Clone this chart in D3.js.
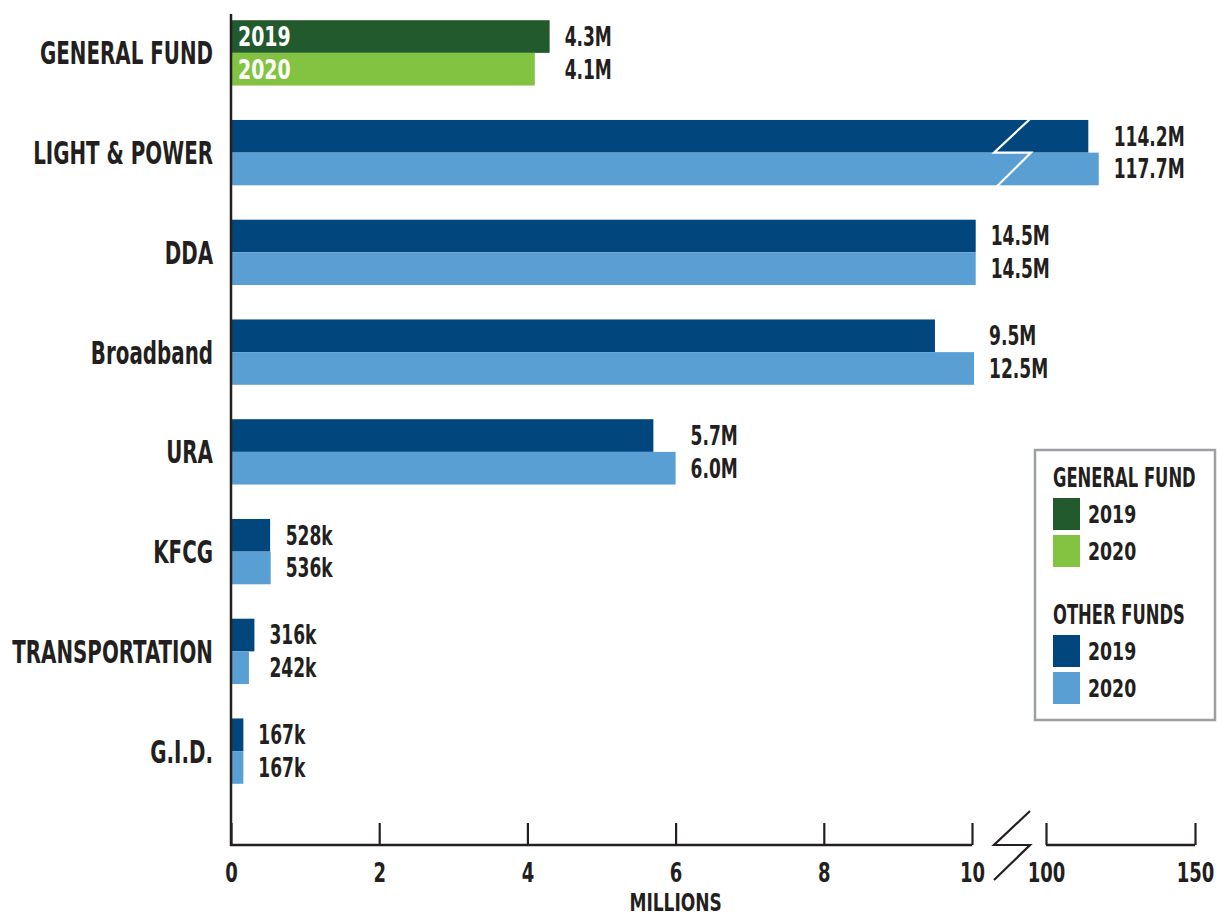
<!DOCTYPE html>
<html>
<head>
<meta charset="utf-8">
<script src="https://cdn.jsdelivr.net/npm/d3@7"></script>
<style>
  html, body { margin: 0; padding: 0; background: #fff; }
  svg { display: block; }
  text { font-family: 'Liberation Sans Narrow', 'DejaVu Sans Condensed', 'Arial Narrow', sans-serif; font-weight: bold; fill: #231f20; }
</style>
</head>
<body>
<svg id="chart" width="1217" height="917"></svg>
<script>
// ---- data ----
const categories = ["GENERAL FUND", "LIGHT & POWER", "DDA", "Broadband", "URA", "KFCG", "TRANSPORTATION", "G.I.D."];
const years = ["2019", "2020"];
const values2019 = [4.3, 114.2, 14.5, 9.5, 5.7, 0.528, 0.316, 0.167];
const values2020 = [4.1, 117.7, 14.5, 12.5, 6.0, 0.536, 0.242, 0.167];
const labels2019 = ["4.3M", "114.2M", "14.5M", "9.5M", "5.7M", "528k", "316k", "167k"];
const labels2020 = ["4.1M", "117.7M", "14.5M", "12.5M", "6.0M", "536k", "242k", "167k"];
const xBreakDomain = [0, 10, 100, 150];
const xTickValues = [0, 2, 4, 6, 8, 10, 100, 150];
const axisTitle = "MILLIONS";
const legendGroups = ["GENERAL FUND", "OTHER FUNDS"];

// ---- styles ----
const colGF = {"2019": "#235a2d", "2020": "#82c341"};
const colOther = {"2019": "#02467e", "2020": "#5a9fd4"};
const ink = "#231f20";
const SQ_CAT = 0.69, SQ_VAL = 0.73, SQ_TICK = 0.77, SQ_LEG = 0.70, SQ_YR = 0.78;

const svg = d3.select("#chart");
const axisY = 845;
const leftX = 231;

// condensed text helper: group translated to (x,y) then squeezed horizontally
function ctext(sel, xPos, yPos, sq, size, anchor) {
  const gg = sel.append("g").attr("transform", `translate(${xPos},${yPos}) scale(${sq},1)`);
  return gg.append("text").attr("text-anchor", anchor || "start").attr("dy", "0.36em")
    .style("font-size", size + "px");
}

// piecewise (broken) scale
const x = d3.scaleLinear().domain(xBreakDomain).range([leftX, 972, 1046, 1195]);
const y = d3.scaleBand().domain(categories).range([3, 801]).paddingInner(0.345).paddingOuter(0.1725);
const yy = d3.scaleBand().domain(years).range([0, y.bandwidth()]);

const rows = categories.map((c, i) => ({
  cat: c, idx: i,
  bars: [
    {year: "2019", v: values2019[i], label: labels2019[i]},
    {year: "2020", v: values2020[i], label: labels2020[i]}
  ]
}));

// bars
const g = svg.append("g");
const rowG = g.selectAll("g.row").data(rows).join("g")
  .attr("class", "row")
  .attr("transform", d => `translate(0,${y(d.cat)})`);

rowG.selectAll("rect").data(d => d.bars.map(b => ({...b, idx: d.idx})))
  .join("rect")
  .attr("x", x(0))
  .attr("y", d => yy(d.year))
  .attr("width", d => x(d.v) - x(0))
  .attr("height", yy.bandwidth())
  .attr("fill", d => d.idx === 0 ? colGF[d.year] : colOther[d.year]);

// value labels
rowG.each(function(d) {
  const sel = d3.select(this);
  const maxEnd = d3.max(d.bars, b => x(b.v));
  d.bars.forEach(b => {
    ctext(sel, maxEnd + 15, yy(b.year) + yy.bandwidth() / 2, SQ_VAL, 26).text(b.label);
  });
  if (d.idx === 0) {
    years.forEach(yr => {
      ctext(sel, x(0) + 7, yy(yr) + yy.bandwidth() / 2, SQ_YR, 27).style("fill", "#fff").text(yr);
    });
  }
});

// break marks across bars that exceed the first segment
const bx = (x(10) + x(100)) / 2;
rowG.filter(d => d3.max(d.bars, b => b.v) > 100).append("path")
  .attr("d", () => {
    const bh = y.bandwidth(), mid = yy("2020");
    return `M${bx + 21},${-1} L${bx - 15},${mid} L${bx + 22},${mid} L${bx - 12},${bh + 1}`;
  })
  .attr("fill", "none")
  .attr("stroke", "#fff")
  .attr("stroke-width", 2.2);

// category labels
categories.forEach(c => {
  ctext(g, 213, y(c) + y.bandwidth() / 2, SQ_CAT, 32, "end").text(c);
});

// vertical axis line
svg.append("line")
  .attr("x1", leftX).attr("x2", leftX)
  .attr("y1", 14).attr("y2", axisY + 1)
  .attr("stroke", ink).attr("stroke-width", 2.5);

// bottom axis
const axis = d3.axisBottom(x).tickValues(xTickValues).tickSizeInner(-22).tickSizeOuter(0).tickPadding(19)
  .tickFormat(d3.format("d"));
const ax = svg.append("g").attr("transform", `translate(0,${axisY})`).call(axis);
ax.attr("font-family", null).attr("font-size", null);
ax.select(".domain").remove();
ax.selectAll(".tick line").attr("stroke", ink).attr("stroke-width", 2.2);
ax.selectAll(".tick text").style("font-size", "26px").attr("fill", ink)
  .attr("transform", `scale(${SQ_TICK},1)`);

// axis segments
svg.append("line").attr("x1", x(0) - 1).attr("x2", x(10)).attr("y1", axisY).attr("y2", axisY)
  .attr("stroke", ink).attr("stroke-width", 2.5);
svg.append("line").attr("x1", x(100)).attr("x2", x(150)).attr("y1", axisY).attr("y2", axisY)
  .attr("stroke", ink).attr("stroke-width", 2.5);
// axis break zigzag
svg.append("path")
  .attr("d", `M${bx + 21},${axisY - 34} L${bx - 15},${axisY} L${bx + 21},${axisY} L${bx - 15},${axisY + 35}`)
  .attr("fill", "none").attr("stroke", ink).attr("stroke-width", 2.2);

// axis title
ctext(svg, x(6), 902, 0.79, 24, "middle").text(axisTitle);

// legend
const lg = svg.append("g");
lg.append("rect").attr("x", 1035).attr("y", 450).attr("width", 180).attr("height", 270)
  .attr("fill", "#fff").attr("stroke", "#9d9fa2").attr("stroke-width", 2.5);

const legendData = [
  {title: legendGroups[0], colors: colGF, y0: 478},
  {title: legendGroups[1], colors: colOther, y0: 615}
];
legendData.forEach(grp => {
  ctext(lg, 1053, grp.y0, SQ_LEG, 26).text(grp.title);
  years.forEach((yr, j) => {
    const cy = grp.y0 + 36 + j * 37;
    lg.append("rect").attr("x", 1053).attr("y", cy - 16).attr("width", 27).attr("height", 32)
      .attr("fill", grp.colors[yr]);
    ctext(lg, 1088, cy, 0.77, 25).text(yr);
  });
});
</script>
</body>
</html>
